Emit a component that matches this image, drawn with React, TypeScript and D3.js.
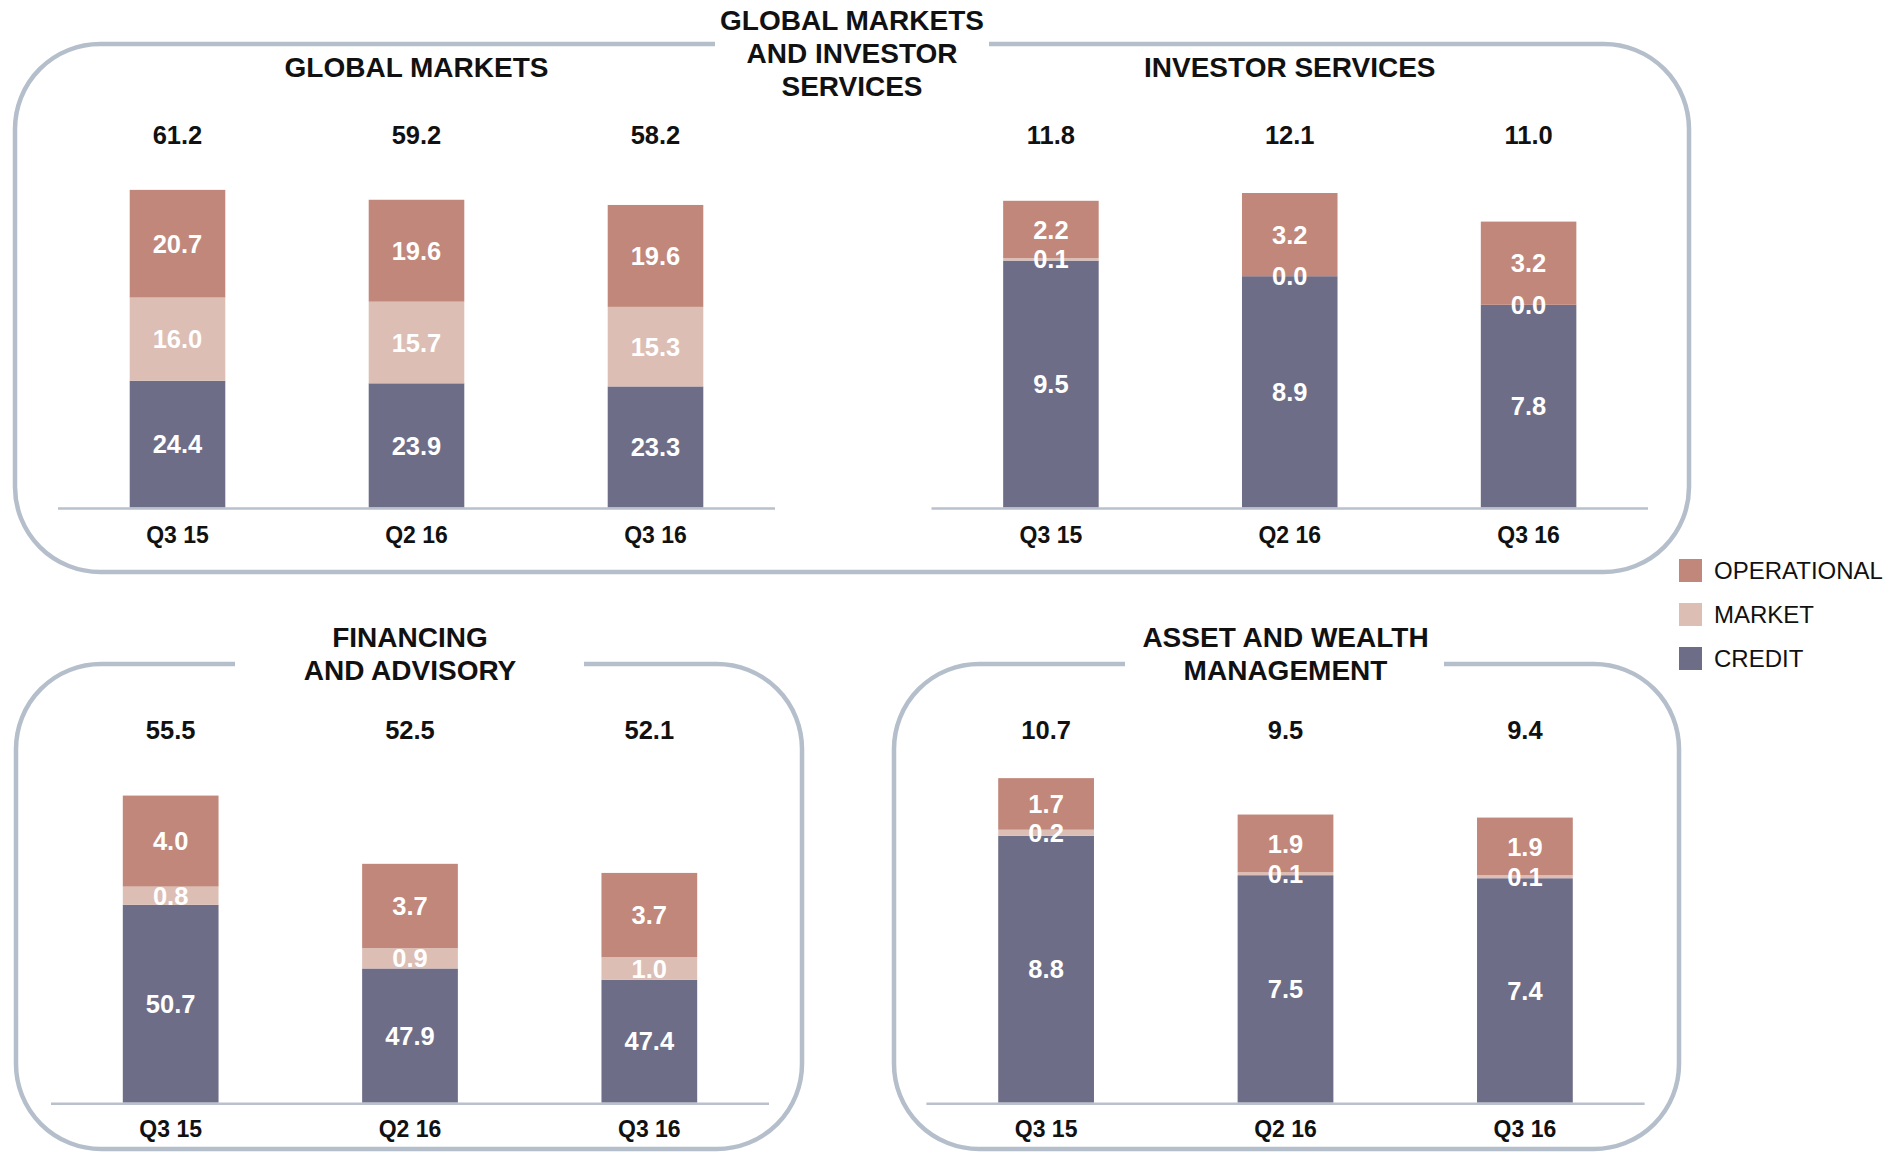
import React from "react";
import * as d3 from "d3";

const categories = ["Q3 15", "Q2 16", "Q3 16"];
const seriesKeys = ["credit", "market", "operational"];
const legendLabels = ["OPERATIONAL", "MARKET", "CREDIT"];

const gmCredit = [24.4, 23.9, 23.3];
const gmMarket = [16.0, 15.7, 15.3];
const gmOperational = [20.7, 19.6, 19.6];
const gmTotals = [61.2, 59.2, 58.2];

const isCredit = [9.5, 8.9, 7.8];
const isMarket = [0.1, 0.0, 0.0];
const isOperational = [2.2, 3.2, 3.2];
const isTotals = [11.8, 12.1, 11.0];

const faCredit = [50.7, 47.9, 47.4];
const faMarket = [0.8, 0.9, 1.0];
const faOperational = [4.0, 3.7, 3.7];
const faTotals = [55.5, 52.5, 52.1];

const awmCredit = [8.8, 7.5, 7.4];
const awmMarket = [0.2, 0.1, 0.1];
const awmOperational = [1.7, 1.9, 1.9];
const awmTotals = [10.7, 9.5, 9.4];

const colors: Record<string, string> = {
  operational: "#c0877a",
  market: "#dcbeb5",
  credit: "#6e6d87",
};
const legendColors = [colors.operational, colors.market, colors.credit];

const FONT = "'Liberation Sans', Arial, sans-serif";
const BOX = "#b5bfcb";
const AXIS = "#b9c1cd";

const W = 1890;
const H = 1154;

function rows(credit: number[], market: number[], operational: number[]) {
  return categories.map((c, i) => ({
    cat: c,
    credit: credit[i],
    market: market[i],
    operational: operational[i],
  }));
}

// layout for each small chart
const panels = [
  {
    title: ["GLOBAL MARKETS"],
    titleY: 67,
    data: rows(gmCredit, gmMarket, gmOperational),
    totals: gmTotals,
    domain: [0, 70],
    x0: 58,
    x1: 775,
    axisY: 507.6,
    totalY: 135,
    catY: 535,
  },
  {
    title: ["INVESTOR SERVICES"],
    titleY: 67,
    data: rows(isCredit, isMarket, isOperational),
    totals: isTotals,
    domain: [0, 14],
    x0: 931.5,
    x1: 1648,
    axisY: 507.6,
    totalY: 135,
    catY: 535,
  },
  {
    title: ["FINANCING", "AND ADVISORY"],
    titleY: 637,
    data: rows(faCredit, faMarket, faOperational),
    totals: faTotals,
    domain: [42, 58],
    x0: 51,
    x1: 769,
    axisY: 1102.7,
    totalY: 730,
    catY: 1129,
  },
  {
    title: ["ASSET AND WEALTH", "MANAGEMENT"],
    titleY: 637,
    data: rows(awmCredit, awmMarket, awmOperational),
    totals: awmTotals,
    domain: [0, 12],
    x0: 926.4,
    x1: 1644.6,
    axisY: 1102.7,
    totalY: 730,
    catY: 1129,
  },
];

const boxes = [
  { left: 15, right: 1689, top: 44, bottom: 572, r: 85, gap: [715, 989] },
  { left: 16, right: 802, top: 664, bottom: 1149, r: 85, gap: [235, 584] },
  { left: 894, right: 1679, top: 664, bottom: 1149, r: 85, gap: [1125, 1444] },
];

function boxPath(b: any) {
  const p = d3.path();
  p.moveTo(b.gap[1], b.top);
  p.lineTo(b.right - b.r, b.top);
  p.arcTo(b.right, b.top, b.right, b.top + b.r, b.r);
  p.lineTo(b.right, b.bottom - b.r);
  p.arcTo(b.right, b.bottom, b.right - b.r, b.bottom, b.r);
  p.lineTo(b.left + b.r, b.bottom);
  p.arcTo(b.left, b.bottom, b.left, b.bottom - b.r, b.r);
  p.lineTo(b.left, b.top + b.r);
  p.arcTo(b.left, b.top, b.left + b.r, b.top, b.r);
  p.lineTo(b.gap[0], b.top);
  return p.toString();
}

const PLOT_H = 364;

function Panel({ p }: { p: any }) {
  const x = d3.scaleBand().domain(categories).range([p.x0, p.x1]).paddingInner(0.6).paddingOuter(0.3);
  const y = d3
    .scaleLinear()
    .domain(p.domain)
    .range([p.axisY, p.axisY - PLOT_H]);
  const stack = d3.stack<any>().keys(seriesKeys)(p.data);
  const cx = (p.x0 + p.x1) / 2;
  const bw = x.bandwidth();

  return (
    <g>
      {p.title.map((t: string, i: number) => (
        <text
          key={t}
          x={cx}
          y={p.titleY + i * 33}
          dy="0.35em"
          textAnchor="middle"
          fontSize={28}
          fontWeight="bold"
          fill="#111"
        >
          {t}
        </text>
      ))}
      {stack.map((s) => (
        <g key={s.key} fill={colors[s.key]}>
          {s.map((d, i) => {
            const lo = Math.max(d[0], p.domain[0]);
            const hi = Math.max(d[1], p.domain[0]);
            return (
              <rect
                key={i}
                x={x(categories[i])}
                y={y(hi)}
                width={bw}
                height={y(lo) - y(hi)}
              />
            );
          })}
        </g>
      ))}
      {stack.map((s) => (
        <g key={s.key + "-lbl"}>
          {s.map((d, i) => {
            const lo = Math.max(d[0], p.domain[0]);
            const hi = Math.max(d[1], p.domain[0]);
            return (
              <text
                key={i}
                x={x(categories[i])! + bw / 2}
                y={(y(lo) + y(hi)) / 2}
                dy="0.36em"
                textAnchor="middle"
                fontSize={25.5}
                fontWeight="bold"
                fill="#fff"
              >
                {(d.data as any)[s.key].toFixed(1)}
              </text>
            );
          })}
        </g>
      ))}
      {categories.map((c, i) => (
        <text
          key={c + "-tot"}
          x={x(c)! + bw / 2}
          y={p.totalY}
          dy="0.36em"
          textAnchor="middle"
          fontSize={25.5}
          fontWeight="bold"
          fill="#111"
        >
          {p.totals[i].toFixed(1)}
        </text>
      ))}
      <line x1={p.x0} x2={p.x1} y1={p.axisY + 1} y2={p.axisY + 1} stroke={AXIS} strokeWidth={2.5} />
      {categories.map((c) => (
        <text
          key={c + "-cat"}
          x={x(c)! + bw / 2}
          y={p.catY}
          dy="0.36em"
          textAnchor="middle"
          fontSize={23}
          fontWeight="bold"
          fill="#111"
        >
          {c}
        </text>
      ))}
    </g>
  );
}

export default function App() {
  return (
    <svg
      width={W}
      height={H}
      style={{ position: "absolute", left: 0, top: 0, background: "#fff" }}
      fontFamily={FONT}
    >
      {boxes.map((b, i) => (
        <path key={i} d={boxPath(b)} fill="none" stroke={BOX} strokeWidth={4.5} />
      ))}
      {["GLOBAL MARKETS", "AND INVESTOR", "SERVICES"].map((t, i) => (
        <text
          key={t}
          x={852}
          y={20.5 + i * 33}
          dy="0.35em"
          textAnchor="middle"
          fontSize={28}
          fontWeight="bold"
          fill="#111"
        >
          {t}
        </text>
      ))}
      {panels.map((p, i) => (
        <Panel key={i} p={p} />
      ))}
      {legendLabels.map((l, i) => (
        <g key={l} transform={`translate(1679, ${559 + i * 44})`}>
          <rect width={23} height={23} fill={legendColors[i]} />
          <text x={35} y={11.5} dy="0.36em" fontSize={24} fill="#111">
            {l}
          </text>
        </g>
      ))}
    </svg>
  );
}
